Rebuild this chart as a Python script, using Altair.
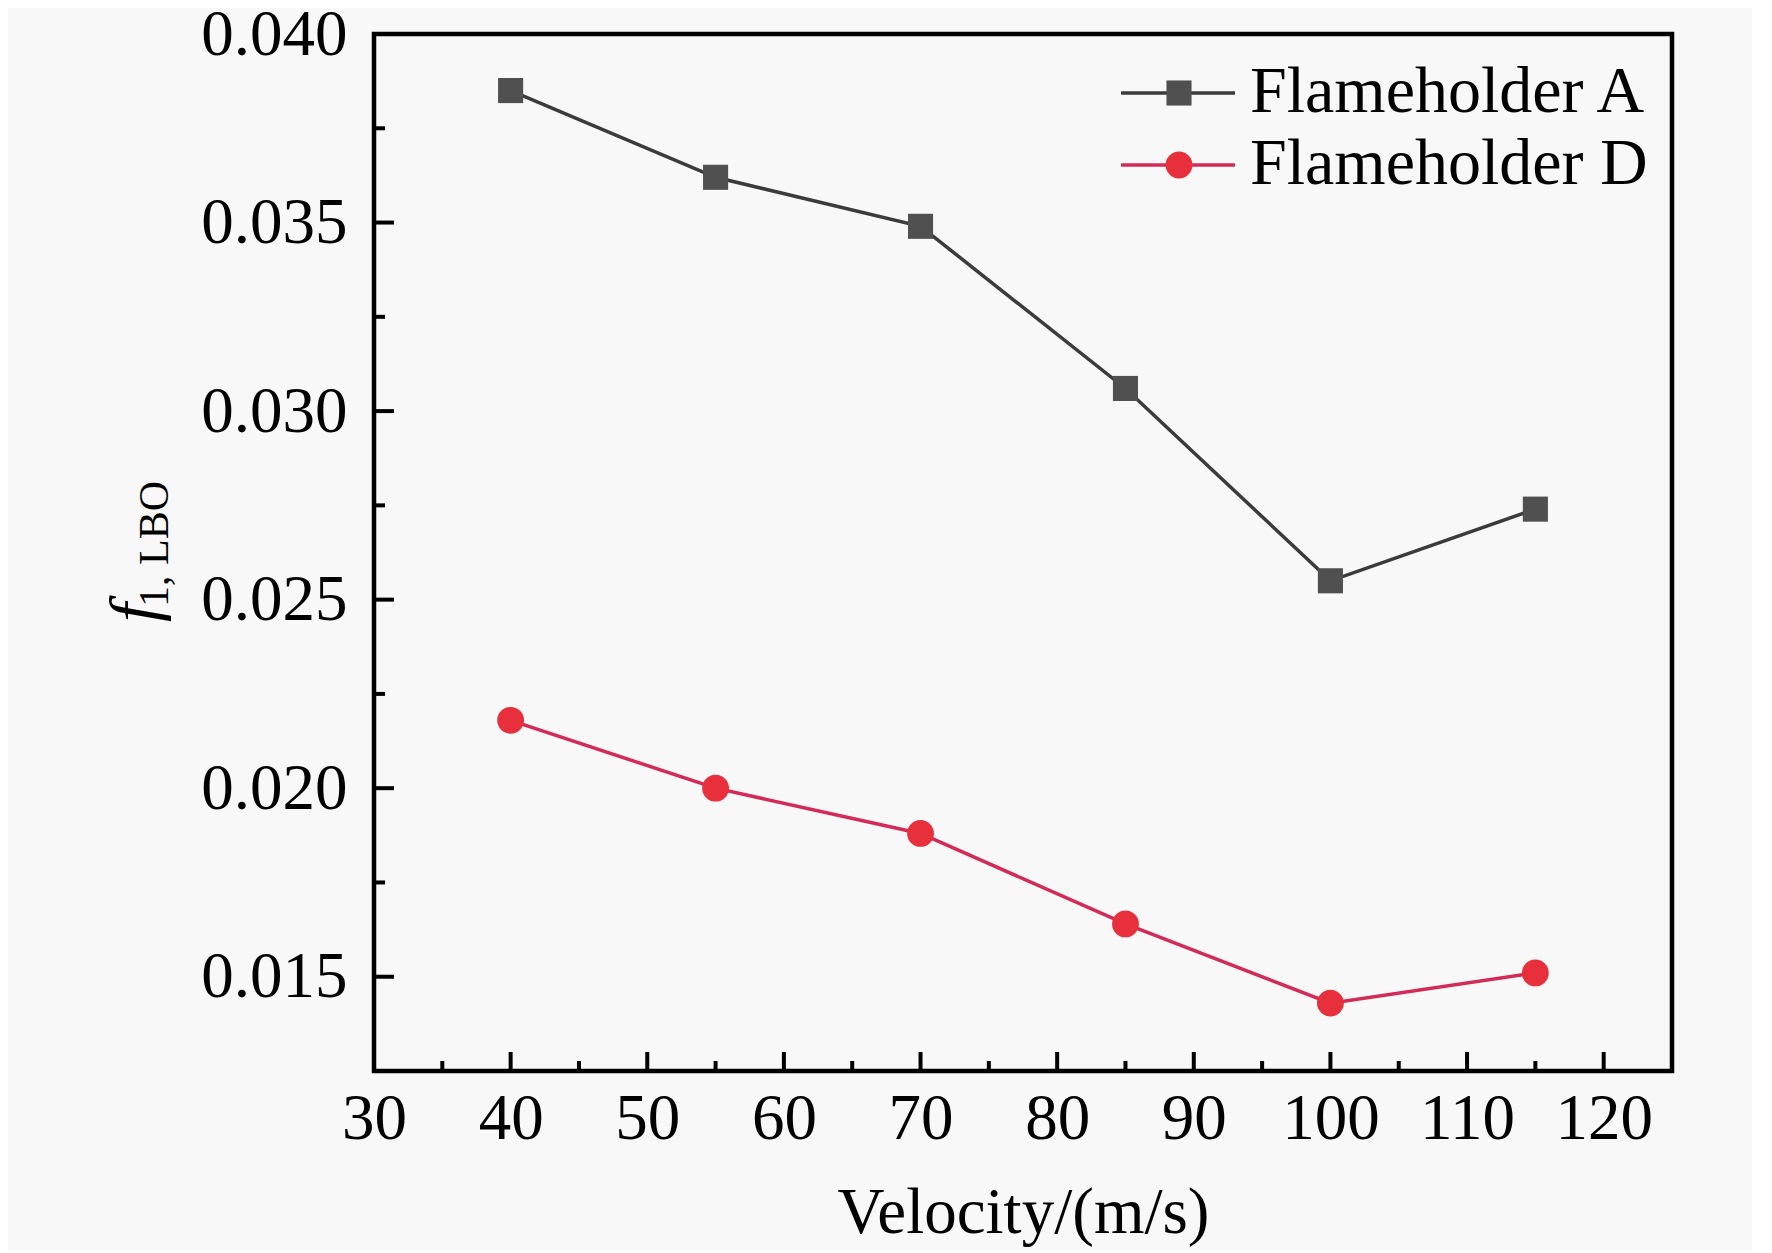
import altair as alt
import pandas as pd

# ---- data ----
velocity = [40, 55, 70, 85, 100, 115]
f_a = [0.0385, 0.0362, 0.0349, 0.0306, 0.0255, 0.0274]
f_d = [0.0218, 0.0200, 0.0188, 0.0164, 0.0143, 0.0151]
series = ["Flameholder A", "Flameholder D"]

x_labels = [30, 40, 50, 60, 70, 80, 90, 100, 110, 120]
x_major = [40, 50, 60, 70, 80, 90, 100, 110, 120]
x_minor = [35, 45, 55, 65, 75, 85, 95, 105, 115]
y_labels = [0.015, 0.020, 0.025, 0.030, 0.035, 0.040]
y_major = [0.015, 0.020, 0.025, 0.030, 0.035]
y_minor = [0.0175, 0.0225, 0.0275, 0.0325, 0.0375]

# ---- style ----
W, H = 1298, 1037
FONT = "Liberation Serif"
FS = 65
line_cols = ["#3b3b3b", "#d42a58"]
mark_cols = ["#505050", "#e8303c"]
SQ, CI = 630, 720

df = pd.DataFrame({
    "velocity": velocity + velocity,
    "f": f_a + f_d,
    "series": [series[0]] * len(velocity) + [series[1]] * len(velocity),
})

xs = alt.Scale(domain=[30, 125], nice=False, zero=False)
ys = alt.Scale(domain=[0.0125, 0.040], nice=False, zero=False)

x_axis = alt.Axis(values=x_labels, ticks=False, domain=False, grid=False,
                  labelPadding=16, labelFont=FONT, labelFontSize=FS, labelColor="black",
                  labelFlush=False, labelOverlap=False,
                  title="Velocity/(m/s)", titleFont=FONT, titleFontSize=FS,
                  titleFontWeight="normal", titleColor="black", titleY=161,
                  titleBaseline="alphabetic")
y_axis = alt.Axis(values=y_labels, format=".3f", ticks=False, domain=False, grid=False,
                  labelPadding=27, labelFont=FONT, labelFontSize=FS, labelColor="black",
                  labelFlush=False, labelOverlap=False, title="")

X = alt.X("velocity:Q", scale=xs, axis=x_axis)
Y = alt.Y("f:Q", scale=ys, axis=y_axis)

lines = alt.Chart(df).mark_line(strokeWidth=3.5).encode(
    x=X, y=Y,
    color=alt.Color("series:N", scale=alt.Scale(domain=series, range=line_cols), legend=None),
)

pts_a = alt.Chart(df).transform_filter(alt.datum.series == series[0]).mark_square(
    size=SQ, color=mark_cols[0], opacity=1).encode(x=X, y=Y)
pts_d = alt.Chart(df).transform_filter(alt.datum.series == series[1]).mark_circle(
    size=CI, color=mark_cols[1], opacity=1).encode(x=X, y=Y)

# ---- ticks (inward, major + minor) ----
xmaj = alt.Chart(pd.DataFrame({"velocity": x_major})).mark_rule(
    color="black", strokeWidth=4).encode(x=X, y=alt.value(H), y2=alt.value(H - 19))
xmin = alt.Chart(pd.DataFrame({"velocity": x_minor})).mark_rule(
    color="black", strokeWidth=4).encode(x=X, y=alt.value(H), y2=alt.value(H - 10))
ymaj = alt.Chart(pd.DataFrame({"f": y_major})).mark_rule(
    color="black", strokeWidth=4).encode(y=Y, x=alt.value(0), x2=alt.value(20))
ymin = alt.Chart(pd.DataFrame({"f": y_minor})).mark_rule(
    color="black", strokeWidth=4).encode(y=Y, x=alt.value(0), x2=alt.value(11))

# ---- y-axis title: italic f with subscript ----
title_f = alt.Chart(pd.DataFrame({"t": ["f"]})).mark_text(
    font=FONT, fontSize=68, fontStyle="italic", angle=270, align="left",
    baseline="alphabetic", color="black").encode(
    text="t:N", x=alt.value(-217), y=alt.value(588))
title_sub = alt.Chart(pd.DataFrame({"t": ["1, LBO"]})).mark_text(
    font=FONT, fontSize=42, angle=270, align="left",
    baseline="alphabetic", color="black").encode(
    text="t:N", x=alt.value(-206), y=alt.value(573))

# ---- legend (inside top-right) ----
LX0, LX1, LXM, LXT = 747, 861, 805, 876
ROWS = [59, 131]
legend_layers = []
for i, name in enumerate(series):
    ldf = pd.DataFrame({"series": [name]})
    legend_layers.append(alt.Chart(ldf).mark_rule(strokeWidth=3.5, color=line_cols[i]).encode(
        x=alt.value(LX0), x2=alt.value(LX1), y=alt.value(ROWS[i])))
    if i == 0:
        legend_layers.append(alt.Chart(ldf).mark_square(size=SQ, color=mark_cols[i], opacity=1).encode(
            x=alt.value(LXM), y=alt.value(ROWS[i])))
    else:
        legend_layers.append(alt.Chart(ldf).mark_circle(size=CI, color=mark_cols[i], opacity=1).encode(
            x=alt.value(LXM), y=alt.value(ROWS[i])))
    legend_layers.append(alt.Chart(ldf).mark_text(
        font=FONT, fontSize=66, align="left", baseline="middle", color="black").encode(
        text="series:N", x=alt.value(LXT), y=alt.value(ROWS[i] - 1)))

chart = alt.layer(
    lines, pts_a, pts_d, xmaj, xmin, ymaj, ymin, title_f, title_sub, *legend_layers
).properties(
    width=W, height=H,
    autosize=alt.AutoSizeParams(type="none"),
    padding={"left": 366, "top": 26, "right": 80, "bottom": 180},
    background="#f8f8f8",
).configure_view(stroke="black", strokeWidth=4.5)

chart.save("out.html", embed_options={"renderer": "svg", "actions": False})
